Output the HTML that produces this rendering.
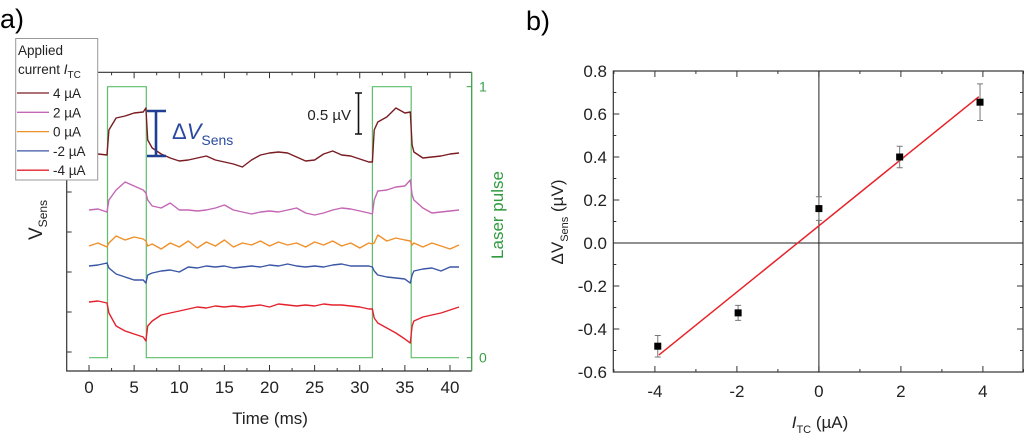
<!DOCTYPE html>
<html><head><meta charset="utf-8"><style>
body{margin:0;background:#fff;width:1024px;height:435px;overflow:hidden;font-family:"Liberation Sans",sans-serif}
svg text{font-family:"Liberation Sans",sans-serif}
</style></head><body>
<svg id="s" width="1024" height="435" viewBox="0 0 1024 435" xmlns="http://www.w3.org/2000/svg">
<text x="0" y="28" font-size="27">a)</text>
<text x="526" y="30" font-size="27">b)</text>
<g id="A"></g>
<g id="B"></g>
</svg>
<script>
// ---------- Panel a data ----------
const times=[0,1,2,2.2,3,4,5,6,6.3,6.5,7,8,9,10,11,12,13,14,15,16,17,18,19,20,21,22,23,24,25,26,27,28,29,30,31,31.4,31.6,32,33,34,35,35.6,35.8,36,37,38,39,40,41];
const seriesLabels=["4 µA","2 µA","0 µA","-2 µA","-4 µA"];
const seriesColors=["#7a1c22","#c466b4","#f0902a","#3a56a6","#e4222e"];
const v4=[218,217,216,241,253,255,258,259,263,231,223,217,213,210,211,213,215,211,209,207,204,211,216,218,219,218,214,210,211,217,220,216,215,212,209,209,241,249,254,263,258,259,226,219,213,214,215,217,218];
const v2=[161,162,159,171,181,189,185,181,178,171,165,163,168,161,161,160,161,163,166,161,159,157,159,160,159,161,163,158,156,158,161,163,162,160,158,157,171,180,181,184,185,191,176,171,163,158,159,160,161];
const v0=[125,128,124,128,135,131,134,132,130,125,127,122,128,124,130,123,129,125,131,124,128,126,130,125,129,126,128,124,129,126,130,125,128,123,128,127,128,136,130,133,131,130,126,128,124,128,125,122,126];
const vm2=[105,106,108,103,97,94,91,91,88,96,98,100,101,99,104,103,105,104,105,103,104,105,104,106,105,107,105,104,105,104,106,107,105,105,105,104,100,96,94,93,92,88,96,100,102,103,100,104,104];
const vm4=[69,70,68,58,45,40,37,34,30,45,50,56,58,60,62,64,63,65,64,65,64,65,66,64,67,66,65,66,65,67,66,66,65,64,62,62,53,48,43,38,32,28,45,50,54,56,58,61,64];
const laserT=[0,2.05,2.05,6.35,6.35,31.4,31.4,35.7,35.7,41];
const laserV=[0,0,1,1,0,0,1,1,0,0];
const xTicksA=[0,5,10,15,20,25,30,35,40];
// ---------- Panel b data ----------
const currents=[-3.93,-1.97,0,1.97,3.93];
const dV=[-0.48,-0.325,0.16,0.40,0.655];
const dVerr=[0.05,0.035,0.055,0.05,0.085];
const fitSlope=0.154, fitIntercept=0.08, fitRange=[-3.9,3.9];
const xTicksB=[-4,-2,0,2,4];
const yTicksB=[-0.6,-0.4,-0.2,0.0,0.2,0.4,0.6,0.8];

const NS="http://www.w3.org/2000/svg";
function mk(p,tag,at,txt){const e=document.createElementNS(NS,tag);for(const k in at)e.setAttribute(k,at[k]);if(txt!=null)e.textContent=txt;p.appendChild(e);return e;}

// ----- Panel a -----
const A=document.getElementById('A');
const axL=66.7,axR=471.7,axT=72.3,axB=371;
const xA=t=>89+t*9.025;
const yA=v=>371-v;
const yL=v=>357.7-v*271;
let d=laserT.map((t,i)=>(i?'L':'M')+xA(t).toFixed(1)+','+yL(laserV[i]).toFixed(1)).join('');
let e=mk(A,'path',{d:d,fill:'none',stroke:'#5cbf6a','stroke-width':1.2});


const allV=[v4,v2,v0,vm2,vm4];
allV.forEach((vals,si)=>{
  const dd=vals.map((v,i)=>(i?'L':'M')+xA(times[i]).toFixed(1)+','+yA(v).toFixed(1)).join('');
  const p=mk(A,'path',{d:dd,fill:'none',stroke:seriesColors[si],'stroke-width':1.4,'stroke-linejoin':'round'});
  
  
});
mk(A,'path',{d:`M${axL},${axT}V${axB}H${axR}`,fill:'none',stroke:'#333','stroke-width':1.2});
mk(A,'line',{x1:axL,y1:axT,x2:axR,y2:axT,stroke:'#333','stroke-width':1.2});
mk(A,'line',{x1:axR,y1:axT,x2:axR,y2:axB,stroke:'#3aa048','stroke-width':1.3});
for(let t=0;t<=40;t+=2.5){const x=xA(t),L=(t%5===0)?6:3;
  mk(A,'line',{x1:x,y1:axB,x2:x,y2:axB-L,stroke:'#333'});mk(A,'line',{x1:x,y1:axT,x2:x,y2:axT+L,stroke:'#333'});}
xTicksA.forEach(t=>{const tx=mk(A,'text',{x:xA(t),y:393,'font-size':17,'text-anchor':'middle',fill:'#222'},String(t));
  });
for(let y=112;y<=352;y+=40){mk(A,'line',{x1:axL,y1:y,x2:axL+5,y2:y,stroke:'#333'});}
[0,1].forEach(v=>{mk(A,'line',{x1:axR,y1:yL(v),x2:axR-5,y2:yL(v),stroke:'#3aa048'});
  mk(A,'text',{x:479,y:yL(v)+5,'font-size':14,fill:'#3aa048'},String(v));});
mk(A,'text',{x:270,y:424,'font-size':17,'text-anchor':'middle',fill:'#222',},'Time (ms)');
mk(A,'text',{transform:'translate(503,215) rotate(-90)','font-size':17,'text-anchor':'middle',fill:'#2f9a3e',},'Laser pulse');
const vt=mk(A,'text',{transform:'translate(42,240) rotate(-90)','font-size':19,fill:'#222',});
mk(vt,'tspan',{},'V');mk(vt,'tspan',{'font-size':12,dy:5},'Sens');
mk(A,'path',{d:'M147,111H166M156,111V156M147,156H166',stroke:'#1f3f94','stroke-width':2.6,fill:'none',});
const dt=mk(A,'text',{x:172,y:139,'font-size':22,fill:'#2a4aa0',});
mk(dt,'tspan',{},'Δ');mk(dt,'tspan',{'font-style':'italic'},'V');mk(dt,'tspan',{'font-size':14,dy:6},'Sens');
mk(A,'path',{d:'M355,93H362M358.5,93V134M355,134H362',stroke:'#111','stroke-width':1.6,fill:'none',});
mk(A,'text',{x:351,y:120,'font-size':15,'text-anchor':'end',fill:'#222'},'0.5 µV');
const lg=mk(A,'g',{});
mk(lg,'rect',{x:15.7,y:38.5,width:82,height:141.5,fill:'#fff',stroke:'#999'});
mk(lg,'text',{x:18,y:55,'font-size':13.5,fill:'#222'},'Applied');
const ct=mk(lg,'text',{x:18,y:74,'font-size':13.5,fill:'#222'});
mk(ct,'tspan',{},'current ');mk(ct,'tspan',{'font-style':'italic'},'I');mk(ct,'tspan',{'font-size':10,dy:4},'TC');
seriesLabels.forEach((s,i)=>{const y=93+i*19.3;
  const g=mk(lg,'g',{});
  
  
  mk(g,'line',{x1:17,y1:y,x2:49,y2:y,stroke:seriesColors[i],'stroke-width':1.3});
  mk(g,'text',{x:53,y:y+5,'font-size':13.5,fill:'#222'},s);});

// ----- Panel b -----
const B=document.getElementById('B');
const bL=613.3,bR=1023,bT=71,bBt=372;
const xB=v=>818.9+v*41;
const yB=v=>243+ -v*215;
mk(B,'rect',{x:bL,y:bT,width:bR-bL,height:bBt-bT,fill:'none',stroke:'#333','stroke-width':1.2});
for(let v=-5;v<=5;v+=1){const x=xB(v),L=(v%2===0)?6:3;
  mk(B,'line',{x1:x,y1:bBt,x2:x,y2:bBt-L,stroke:'#333'});mk(B,'line',{x1:x,y1:bT,x2:x,y2:bT+L,stroke:'#333'});}
for(let k=-6;k<=8;k++){const v=k/10,y=yB(v),L=(k%2===0)?6:3;
  mk(B,'line',{x1:bL,y1:y,x2:bL+L,y2:y,stroke:'#333'});mk(B,'line',{x1:bR,y1:y,x2:bR-L,y2:y,stroke:'#333'});}
xTicksB.forEach(v=>{const t=mk(B,'text',{x:xB(v),y:397,'font-size':17,'text-anchor':'middle',fill:'#222'},String(v));
  });
yTicksB.forEach(v=>{const t=mk(B,'text',{x:607,y:yB(v)+6,'font-size':17,'text-anchor':'end',fill:'#222'},v.toFixed(1));
  });
mk(B,'line',{x1:bL,y1:yB(0),x2:bR,y2:yB(0),stroke:'#222','stroke-width':1,});
mk(B,'line',{x1:xB(0),y1:bT,x2:xB(0),y2:bBt,stroke:'#222','stroke-width':1,});
const fl=mk(B,'line',{x1:xB(fitRange[0]),y1:yB(fitSlope*fitRange[0]+fitIntercept),x2:xB(fitRange[1]),y2:yB(fitSlope*fitRange[1]+fitIntercept),stroke:'#e8232a','stroke-width':1.5});


currents.forEach((c,i)=>{const x=xB(c),y=yB(dV[i]),y1=yB(dV[i]+dVerr[i]),y2=yB(dV[i]-dVerr[i]);
  const g=mk(B,'g',{});
  
  
  mk(g,'path',{d:`M${x},${y1}V${y2}M${x-3},${y1}H${x+3}M${x-3},${y2}H${x+3}`,stroke:'#777','stroke-width':1,fill:'none'});
  mk(g,'rect',{x:x-3.5,y:y-3.5,width:7,height:7,fill:'#000'});});
const xt=mk(B,'text',{x:820,y:428,'font-size':17,'text-anchor':'middle',fill:'#222',});
mk(xt,'tspan',{'font-style':'italic'},'I');mk(xt,'tspan',{'font-size':11,dy:5},'TC');mk(xt,'tspan',{dy:-5},' (µA)');
const yt=mk(B,'text',{transform:'translate(563,222) rotate(-90)','font-size':17,'text-anchor':'middle',fill:'#222',});
mk(yt,'tspan',{},'ΔV');mk(yt,'tspan',{'font-size':11,dy:5},'Sens');mk(yt,'tspan',{dy:-5},'  (µV)');
</script>
</body></html>
